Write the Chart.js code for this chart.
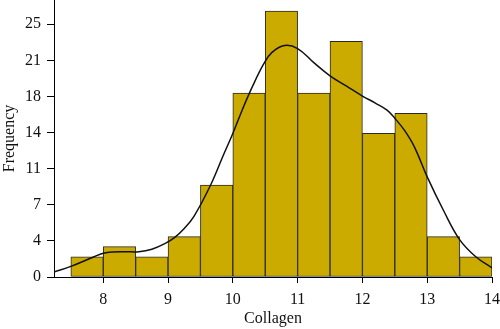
<!DOCTYPE html>
<html>
<head>
<meta charset="utf-8">
<script src="https://cdn.jsdelivr.net/npm/chart.js@4/dist/chart.umd.min.js"></script>
<style>
html,body{margin:0;padding:0;background:#fff;}
#wrap{width:500px;height:329px;}
</style>
</head>
<body>
<div id="wrap"><canvas id="c" width="500" height="329"></canvas></div>
<script>
// Histogram bin centres (bin width 0.5) and heights
const binCenters = [7.75, 8.25, 8.75, 9.25, 9.75, 10.25, 10.75, 11.25, 11.75, 12.25, 12.75, 13.25, 13.75];
const binHeights = [2, 3, 2, 4, 9.1, 18.2, 26.3, 18.2, 23.3, 14.2, 16.2, 4, 2];

// Density curve (scaled to frequency)
const curveX = [7.24, 7.5, 7.85, 8.0, 8.15, 8.35, 8.55, 8.75, 8.95, 9.1, 9.25, 9.4, 9.65, 9.85, 10.0, 10.15, 10.3, 10.47, 10.6, 10.8, 11.0, 11.25, 11.5, 11.75, 12.0, 12.2, 12.38, 12.5, 12.65, 12.8, 13.0, 13.25, 13.5, 13.75, 14.0];
const curveY = [0.5, 1.05, 1.98, 2.35, 2.48, 2.5, 2.5, 2.75, 3.3, 3.9, 4.8, 6.0, 9.0, 12.0, 14.2, 16.6, 18.8, 21.0, 22.2, 22.9, 22.6, 21.2, 19.9, 18.9, 17.9, 17.2, 16.5, 15.7, 14.5, 12.9, 9.9, 6.6, 3.7, 2.0, 0.9];

// Axis ticks
const xTickValues = [8, 9, 10, 11, 12, 13, 14];
const yTickValues = [0, 25/7, 50/7, 75/7, 100/7, 125/7, 150/7, 25];
const yTickLabels = ['0', '4', '7', '11', '14', '18', '21', '25'];

const FONT = 'Liberation Serif';
const ctx = document.getElementById('c');
new Chart(ctx, {
  type: 'bar',
  data: {
    datasets: [
      {
        type: 'line',
        data: curveX.map((x, i) => ({x: x, y: curveY[i]})),
        borderColor: '#111111',
        borderWidth: 1.5,
        pointRadius: 0,
        tension: 0.4,
        fill: false,
        order: 0
      },
      {
        type: 'bar',
        data: binCenters.map((x, i) => ({x: x, y: binHeights[i]})),
        backgroundColor: '#CCAB00',
        borderColor: '#2a2a2a',
        borderWidth: 1,
        borderSkipped: false,
        barPercentage: 1,
        categoryPercentage: 1,
        grouped: false,
        order: 1
      }
    ]
  },
  options: {
    responsive: false,
    devicePixelRatio: 1,
    animation: false,
    layout: {padding: {left: 0, right: 8, top: 0, bottom: 0}},
    plugins: {legend: {display: false}, tooltip: {enabled: false}},
    scales: {
      x: {
        type: 'linear',
        offset: false,
        min: 7.24,
        max: 14,
        afterBuildTicks: (s) => { s.ticks = xTickValues.map(v => ({value: v})); },
        afterFit: (s) => { s.height = 52; s.paddingLeft = 0; s.paddingRight = 0; },
        grid: {display: true, offset: false, drawOnChartArea: false, drawTicks: true, tickLength: 6, color: '#000', lineWidth: 1},
        border: {display: true, color: '#000', width: 1},
        ticks: {color: '#111', font: {family: FONT, size: 16}, padding: 7, maxRotation: 0,
                callback: (v) => String(v)},
        title: {display: true, text: 'Collagen', color: '#111', font: {family: FONT, size: 16}, padding: {top: 0, bottom: 1}}
      },
      y: {
        min: 0,
        max: 27.4,
        afterBuildTicks: (s) => { s.ticks = yTickValues.map(v => ({value: v})); },
        afterFit: (s) => { s.width = 54; s.paddingTop = 0; s.paddingBottom = 0; },
        grid: {display: true, drawOnChartArea: false, drawTicks: true, tickLength: 7, color: '#000', lineWidth: 1},
        border: {display: true, color: '#000', width: 1},
        ticks: {color: '#111', font: {family: FONT, size: 16}, padding: 6,
                callback: (v, i) => yTickLabels[i]},
        title: {display: true, text: 'Frequency', color: '#111', font: {family: FONT, size: 16}, padding: {top: 0, bottom: 0}}
      }
    }
  }
});
</script>
</body>
</html>
